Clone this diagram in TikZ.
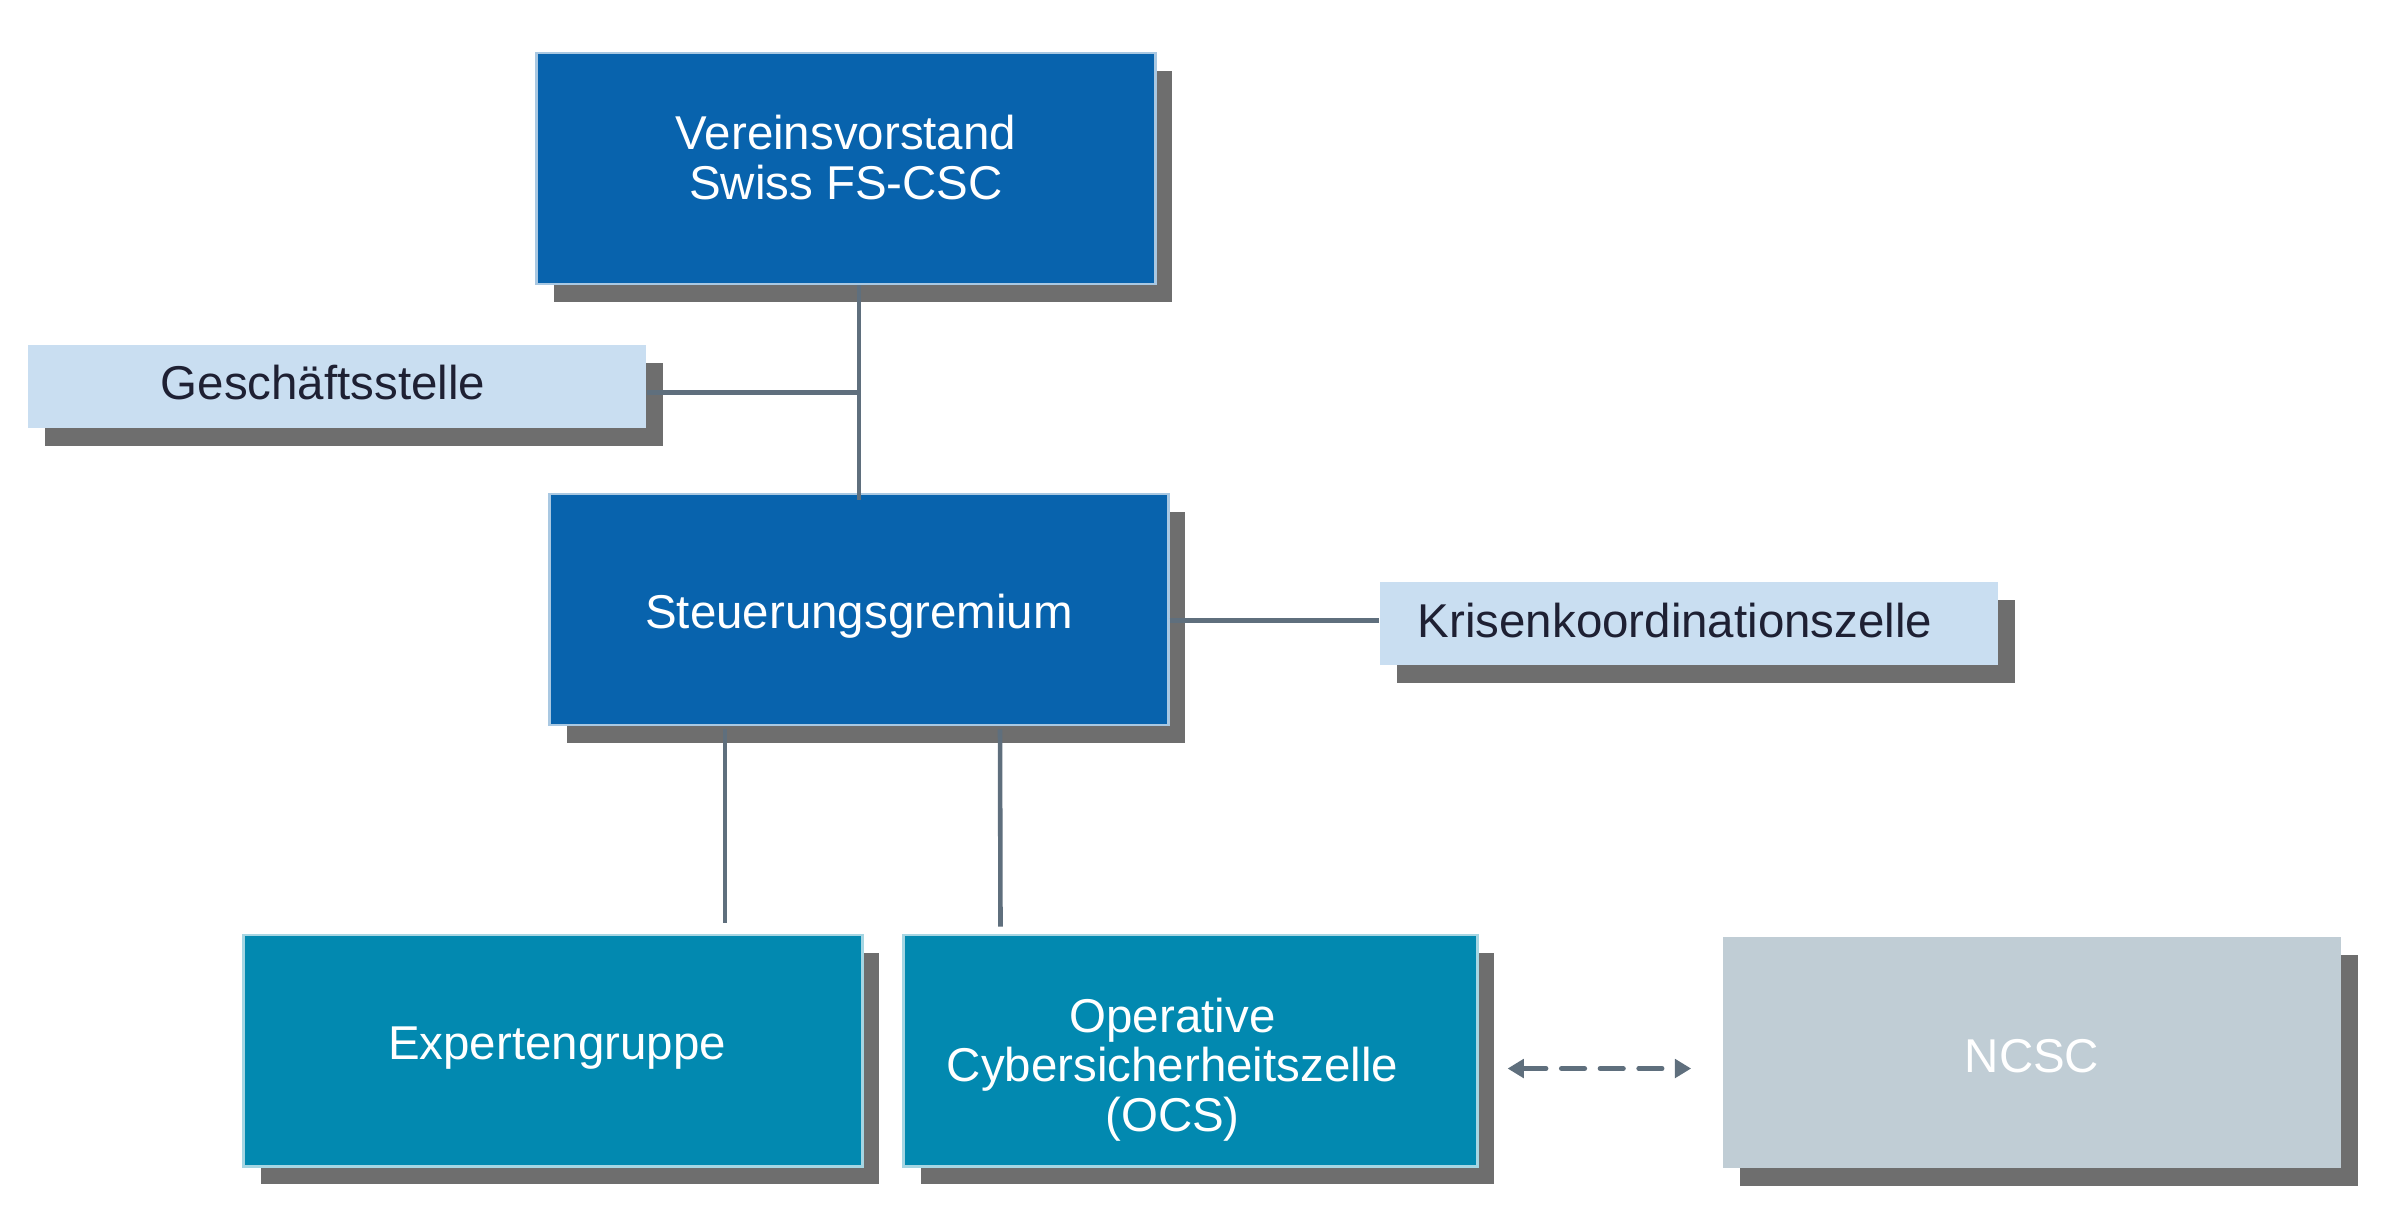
\documentclass[tikz,border=0pt]{standalone}
\usepackage{fontspec}
\setmainfont{Liberation Sans}
\usepackage{tikz}
\usetikzlibrary{shadows,arrows.meta}
\definecolor{vorstandblue}{HTML}{0863AD}
\definecolor{gruppeteal}{HTML}{0289B0}
\definecolor{stelleblue}{HTML}{C9DEF1}
\definecolor{ncscgray}{HTML}{C0CDD5}
\definecolor{linkgray}{HTML}{5F6F7D}
\definecolor{shadowgray}{HTML}{6E6E6E}
\definecolor{darktext}{HTML}{1E2033}
\tikzset{
	unit/.style={rectangle,minimum width=6.18cm,minimum height=2.31cm,inner sep=0pt,
		drop shadow={shadow xshift=0.17cm,shadow yshift=-0.18cm,fill=shadowgray,opacity=1}},
	board/.style={unit,fill=vorstandblue,draw=vorstandblue!35!white,line width=0.8pt},
	cell/.style={unit,fill=gruppeteal,draw=gruppeteal!35!white,line width=0.8pt},
	office/.style={unit,minimum height=0.83cm,fill=stelleblue},
	partner/.style={unit,fill=ncscgray},
	caption/.style={align=center,inner sep=0pt,text=white,font=\fontsize{13.5}{14.1}\selectfont},
	darkcaption/.style={caption,text=darktext},
	link/.style={draw=linkgray,line width=1.3pt},
	exchange/.style={draw=linkgray,line width=1.4pt,line cap=round,dash pattern=on 6.6pt off 4.4pt,
		{Triangle[length=4.6pt,width=5.2pt]}-{Triangle[length=4.6pt,width=5.2pt]}}
}
\begin{document}
\begin{tikzpicture}[x=0.01cm,y=-0.01cm]
	\useasboundingbox (0,0) rectangle (2400,1217);
	\node[board] (vorstand) at (846,168.5) {};
	\node[office] (geschaeft) at (337,386.5) {};
	\node[board] (steuerung) at (859,609.5) {};
	\node[office] (krisen) at (1689,623.5) {};
	\node[cell] (experten) at (553,1050.5) {};
	\node[cell,minimum width=5.73cm] (ocs) at (1190.5,1050.5) {};
	\node[partner] (ncsc) at (2032,1052.5) {};
	\node[caption] (vorstandtext) at ([shift={(0,-11)}]vorstand) {Vereinsvorstand\\Swiss FS-CSC};
	\node[darkcaption] (geschaefttext) at ([shift={(-14,-4)}]geschaeft) {Geschäftsstelle};
	\node[caption] (steuerungtext) at ([shift={(0,7)}]steuerung) {Steuerungsgremium};
	\node[darkcaption] (krisentext) at ([shift={(-14,-3)}]krisen) {Krisenkoordinationszelle};
	\node[caption] (expertentext) at ([shift={(4,-2)}]experten) {Expertengruppe};
	\node[caption] (ocstext) at ([shift={(-18,19)}]ocs) {Operative\\Cybersicherheitszelle\\(OCS)};
	\node[caption] (ncsctext) at ([shift={(0,4)}]ncsc) {NCSC};
	\draw[link] (steuerung.north |- vorstand.south) -- ([shift={(0,7)}]steuerung.north);
	\draw[link] ([shift={(0,6)}]geschaeft.east) -- ([shift={(0,6)}]geschaeft.east -| steuerung.north);
	\draw[link] ([shift={(0,-3)}]steuerung.east |- krisen.west) -- ([shift={(0,-3)}]krisen.west);
	\draw[link] ([shift={(-134,3)}]steuerung.south) -- ([shift={(172,-11)}]experten.north);
	\draw[link] ([shift={(141,3)}]steuerung.south) -- ([shift={(-190,-7)}]ocs.north);
	\draw[exchange] ([shift={(29,18)}]ocs.east) -- ([shift={(-31,16)}]ncsc.west);
\end{tikzpicture}
\end{document}
